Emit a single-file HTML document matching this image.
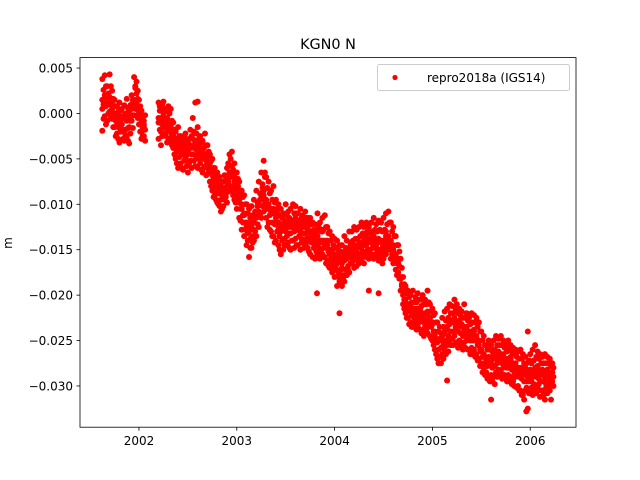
<!DOCTYPE html>
<html><head><meta charset="utf-8"><style>
html,body{margin:0;padding:0;background:#fff;width:640px;height:480px;overflow:hidden}
svg text{font-family:"DejaVu Sans","Liberation Sans",sans-serif;fill:#000}
</style></head><body>
<svg id="chart" width="640" height="480" viewBox="0 0 640 480" xmlns="http://www.w3.org/2000/svg">
<rect width="640" height="480" fill="#fff"/>
<text x="328" y="49" font-size="14.4" text-anchor="middle">KGN0 N</text>
<text transform="translate(12,243) rotate(-90)" font-size="12" text-anchor="middle">m</text>
<g id="marks"></g>
<g id="axes"></g>
<g>
<rect x="377.5" y="64.5" width="192" height="26" rx="2" fill="#fff" fill-opacity="0.8" stroke="#ccc"/>
<circle cx="395" cy="77.5" r="2.6" fill="#f00"/>
<text x="427" y="82" font-size="12">repro2018a (IGS14)</text>
</g>
</svg>
<script>
const xTickValues=[2002,2003,2004,2005,2006];
const xTickLabels=["2002","2003","2004","2005","2006"];
const yTickValues=[5,0,-5,-10,-15,-20,-25,-30];
const yTickLabels=["0.005","0.000","\u22120.005","\u22120.010","\u22120.015","\u22120.020","\u22120.025","\u22120.030"];
const epochs=[2001.625,2001.65,2001.675,2001.7,2001.725,2001.75,2001.775,2001.8,2001.825,2001.85,2001.875,2001.9,2001.925,2001.95,2001.975,2002.0,2002.025,2002.05,
2002.2,2002.225,2002.25,2002.275,2002.3,2002.325,2002.35,2002.375,2002.4,2002.425,2002.45,2002.475,2002.5,2002.525,2002.55,2002.575,2002.6,2002.625,2002.65,2002.675,2002.7,2002.725,2002.75,2002.775,2002.8,2002.825,2002.85,2002.875,2002.9,2002.925,2002.95,2002.975,
2003.0,2003.025,2003.05,2003.075,2003.1,2003.125,2003.15,2003.175,2003.2,2003.225,2003.25,2003.275,2003.3,2003.325,2003.35,2003.375,2003.4,2003.425,2003.45,2003.475,2003.5,2003.525,2003.55,2003.575,2003.6,2003.625,2003.65,2003.675,2003.7,2003.725,2003.75,2003.775,2003.8,2003.825,2003.85,2003.875,2003.9,2003.925,2003.95,2003.975,
2004.0,2004.025,2004.05,2004.075,2004.1,2004.125,2004.15,2004.175,2004.2,2004.225,2004.25,2004.275,2004.3,2004.325,2004.35,2004.375,2004.4,2004.425,2004.45,2004.475,2004.5,2004.525,2004.55,2004.575,2004.6,2004.625,2004.65,2004.675,2004.7,2004.725,2004.75,2004.775,2004.8,2004.825,2004.85,2004.875,2004.9,2004.925,2004.95,2004.975,
2005.0,2005.025,2005.05,2005.075,2005.1,2005.125,2005.15,2005.175,2005.2,2005.225,2005.25,2005.275,2005.3,2005.325,2005.35,2005.375,2005.4,2005.425,2005.45,2005.475,2005.5,2005.525,2005.55,2005.575,2005.6,2005.625,2005.65,2005.675,2005.7,2005.725,2005.75,2005.775,2005.8,2005.825,2005.85,2005.875,2005.9,2005.925,2005.95,2005.975,
2006.0,2006.025,2006.05,2006.075,2006.1,2006.125,2006.15,2006.175,2006.2,2006.225];
const samplesMm=[[1.5,3.8,0.5,-1.9],[1.5,4.2,2.0,-0.3],[1.2,3.0,1.0,-0.8],[1.0,4.3,0.2,1.8],[0.5,2.5,-0.6,1.0],[0,1.5,-1.5,-0.2],[-0.5,0.8,-2.2,-1.0],[-0.5,1.2,-3.2,-0.3],[-0.6,-2.0,0.5,-1.2],[-0.4,-3.0,0.9,-0.5],[-0.5,1.6,-2.5,-0.8],[-0.3,-3.3,0.3,-1.5],[0.5,2.0,-0.8,1.0],[1.5,4.0,1.2,-0.2],[1.0,3.5,0.5,2.2],[0,1.5,-1.2,0.2],[-1,-2.0,0.3,-2.8],[-1.5,-0.8,-2.5,-1.2],
[-0.5,1.2,-1.0,-2.8],[-0.5,0.5,-2.0,-3.5],[-0.8,1.3,-1.5,0.0],[-1,-2.5,0.2,-1.2],[-1.2,0.8,-2.8,-1.0],[-1.5,-3.0,0.5,-1.8],[-2.5,-1.0,-3.8,-2.2],[-3.5,-5.0,-2.0,-3.2],[-3.5,-6.0,-1.5,-4.0],[-3.8,-2.5,-5.5,-3.5],[-4,-6.2,-3.0,-4.5],[-4,-2.2,-5.0,-3.8],[-4,-6.5,-3.2,-4.2],[-3.8,-1.8,-5.2,-3.5],[-3.5,-0.5,-4.5,-2.8],[-3.5,1.2,-3.0,-5.8],[-3.5,-1.5,-4.5,-6.0],[-4.0,-2.5,-5.5,-3.8],[-4.5,-3.0,-6.5,-4.2],[-4.5,-2.2,-5.8,-4.8],[-4.8,-3.5,-6.0,-4.5],[-5.5,-4.5,-7.5,-5.0],[-6.5,-5.0,-8.5,-6.8],[-7.5,-6.0,-9.0,-8.0],[-8,-6.5,-9.8,-7.8],[-8.5,-7.0,-10.2,-8.8],[-8.5,-7.5,-10.5,-9.0],[-8.5,-6.8,-9.5,-8.2],[-8,-6.0,-9.8,-7.5],[-7,-4.5,-8.0,-6.5],[-6.5,-4.2,-8.5,-5.8],[-7.5,-5.5,-9.5,-7.0],
[-8.5,-6.5,-10.5,-9.0],[-9.5,-7.5,-11.5,-9.0],[-10.5,-8.5,-12.8,-10.0],[-11,-9.0,-13.5,-11.2],[-12,-10.0,-14.5,-12.5],[-12.5,-10.5,-15.8,-13.0],[-12.5,-10.2,-14.8,-12.0],[-12,-9.5,-14.0,-12.8],[-11,-8.5,-13.5,-11.5],[-10,-7.5,-12.5,-10.8],[-9.5,-6.5,-11.5,-9.0],[-9,-5.2,-10.8,-8.5],[-9.5,-7.0,-11.5,-9.8],[-10,-7.5,-12.0,-10.5],[-10.5,-8.5,-13.0,-11.0],[-11,-8.0,-13.5,-10.5],[-11.5,-9.5,-14.0,-12.0],[-12,-10.0,-14.5,-12.5],[-12.5,-10.5,-15.5,-13.0],[-12.5,-11.0,-15.0,-12.2],[-12.5,-10.0,-14.5,-13.0],[-12.5,-10.8,-14.2,-12.0],[-12.5,-10.5,-15.0,-13.2],[-12,-10.0,-14.0,-12.5],[-12,-10.2,-13.8,-11.5],[-12.5,-11.0,-14.5,-12.8],[-12.5,-10.5,-15.0,-13.0],[-12.5,-11.2,-14.0,-12.0],[-12.5,-10.8,-14.5,-13.2],[-12.5,-11.5,-14.8,-12.8],[-13,-11.5,-15.5,-13.5],[-13.5,-12.0,-15.8,-14.0],[-14,-12.2,-16.0,-14.5],[-14,-11.0,-15.5,-13.5],[-14,-12.0,-16.0,-14.2],[-14,-11.5,-15.5,-13.0],[-14,-11.2,-15.8,-14.5],[-14.5,-12.5,-16.2,-14.0],[-15,-13.0,-17.0,-15.5],[-15.5,-13.5,-17.5,-15.0],
[-15.5,-13.8,-18.0,-16.0],[-16,-14.0,-19.0,-16.5],[-16,-14.5,-18.5,-15.5],[-16.5,-14.5,-19.0,-17.0],[-16,-13.5,-18.5,-16.2],[-16,-14.0,-17.8,-15.5],[-15.5,-13.0,-17.5,-15.8],[-15,-13.0,-16.5,-15.5],[-15,-12.5,-17.0,-14.5],[-15,-12.8,-16.8,-15.2],[-14.5,-12.5,-16.5,-14.2],[-14.5,-12.0,-16.2,-14.8],[-14.5,-12.5,-16.5,-14.0],[-14,-12.0,-15.8,-14.5],[-14,-12.5,-16.0,-13.8],[-14,-12.0,-15.5,-14.2],[-14,-11.5,-16.0,-13.5],[-14,-12.2,-15.5,-14.5],[-14,-11.8,-16.2,-13.8],[-14,-12.0,-15.8,-14.2],[-14,-11.5,-16.0,-14.5],[-13.5,-11.0,-15.5,-13.0],[-13.5,-10.8,-15.0,-13.8],[-14,-12.0,-16.0,-14.5],[-14.5,-12.5,-16.5,-15.0],[-15.5,-13.5,-17.2,-15.8],[-16,-14.5,-17.5,-16.5],[-18,-16.0,-19.5,-18.2],[-19.5,-18.0,-21.0,-20.0],[-20.5,-19.0,-22.0,-20.8],[-21,-19.5,-22.5,-21.2],[-21.5,-20.0,-23.0,-21.0],[-21.5,-19.5,-23.5,-22.0],[-21.5,-20.2,-23.0,-21.8],[-21.5,-19.8,-23.5,-22.2],[-22,-20.5,-23.8,-21.5],[-22,-20.0,-24.0,-22.5],[-22,-20.5,-23.5,-22.2],[-22,-19.5,-24.2,-21.8],[-22.5,-21.0,-24.5,-22.8],
[-23,-21.5,-25.0,-23.2],[-24,-22.0,-26.0,-24.5],[-25,-23.0,-27.0,-25.2],[-25,-23.5,-26.8,-24.8],[-24.5,-22.5,-26.5,-25.0],[-24,-21.8,-26.0,-24.2],[-23.5,-21.5,-25.5,-23.8],[-23,-21.0,-25.0,-23.2],[-23,-21.2,-24.8,-22.8],[-22.5,-20.5,-24.5,-23.0],[-23,-21.0,-25.2,-23.5],[-23,-21.5,-25.0,-22.8],[-23.5,-21.8,-25.5,-23.2],[-23.5,-21.0,-25.2,-24.0],[-23.5,-22.0,-25.0,-23.8],[-24,-22.5,-26.0,-24.2],[-24,-22.0,-25.8,-24.5],[-24,-22.2,-26.0,-23.8],[-24.5,-22.5,-26.5,-25.0],[-25,-23.0,-27.0,-25.5],[-26,-24.0,-27.5,-26.2],[-26.5,-24.5,-28.0,-26.8],[-27,-25.5,-28.5,-27.2],[-27,-25.0,-29.0,-26.8],[-27,-25.5,-28.8,-27.5],[-27,-25.0,-29.0,-26.5],[-26.5,-24.5,-28.5,-27.0],[-26.5,-24.8,-28.2,-26.2],[-26.5,-24.5,-28.5,-27.0],[-26.5,-25.0,-28.0,-26.8],[-27,-25.5,-29.0,-27.2],[-27,-25.0,-28.8,-27.5],[-27,-25.5,-29.0,-26.8],[-27.5,-25.8,-29.5,-27.8],[-27.5,-26.0,-29.0,-28.0],[-28,-26.2,-30.0,-28.5],[-28,-26.0,-30.5,-28.2],[-28.5,-26.5,-31.0,-28.8],[-28.5,-26.8,-30.5,-28.0],[-28.5,-24.0,-32.5,-29.0],
[-28.5,-26.5,-30.5,-28.2],[-28.5,-26.0,-31.0,-29.0],[-28,-25.5,-30.0,-28.5],[-28,-26.2,-30.2,-27.8],[-28.5,-26.5,-31.2,-28.8],[-28.5,-26.8,-30.5,-28.2],[-28.5,-26.5,-31.5,-29.0],[-28.5,-26.8,-30.8,-28.2],[-28.5,-27.0,-30.5,-29.0],[-28.5,-27.5,-29.5,-28.5]];
const samplesMmB=[[2.6,-0.6,1.0],[3.0,0.8,-1.2],[2.2,0.0,1.8],[3.0,-0.5,1.2],[1.6,0.0,-1.5],[0.8,-0.8,-2.5],[0.2,-1.5,-2.8],[0.3,-2.0,-1.0],[-0.3,-1.8,-2.8],[0.0,-1.8,-2.4],[0.6,-1.6,-3.0],[0.9,-2.2,-0.8],[1.5,-0.2,-1.6],[2.8,0.5,3.0],[2.5,1.6,-0.5],[0.8,-0.5,-2.0],[-0.3,-1.5,-2.5],[-0.2,-1.8,-3.0],
[0.3,-1.8,0.8],[1.0,-1.2,-2.5],[0.5,-2.2,-0.5],[-0.5,-1.8,-3.2],[0.0,-2.0,-1.6],[-0.8,-2.4,-3.5],[-1.8,-3.0,-4.5],[-2.8,-4.2,-5.5],[-2.5,-4.8,-3.0],[-3.0,-4.5,-6.0],[-3.5,-5.2,-2.5],[-3.0,-4.6,-5.8],[-3.6,-5.5,-2.8],[-2.5,-4.5,-6.0],[-2.0,-3.8,-5.2],[-2.2,-4.0,-4.8],[-2.8,-5.0,-3.2],[-3.2,-4.8,-6.2],[-3.8,-5.0,-6.0],[-3.5,-5.2,-6.8],[-4.2,-5.8,-6.5],[-5.2,-6.2,-8.0],[-6.0,-7.2,-9.2],[-7.0,-8.5,-9.5],[-7.2,-8.8,-10.0],[-8.0,-9.5,-10.8],[-7.5,-9.0,-10.2],[-7.0,-8.8,-9.2],[-5.5,-7.5,-8.6],[-5.0,-7.0,-8.0],[-6.2,-8.2,-9.0],[-6.5,-8.0,-9.8],
[-7.2,-9.8,-8.0],[-8.5,-10.5,-11.8],[-9.2,-11.2,-12.0],[-10.0,-12.0,-12.8],[-11.0,-13.2,-14.0],[-11.5,-13.8,-14.8],[-11.2,-13.5,-14.2],[-10.8,-13.0,-11.5],[-9.8,-12.2,-10.2],[-8.8,-11.2,-9.5],[-7.8,-10.2,-8.2],[-7.0,-10.0,-6.5],[-8.2,-10.5,-12.5],[-8.8,-11.2,-12.8],[-9.5,-12.0,-13.5],[-9.8,-12.2,-14.2],[-10.5,-13.0,-11.0],[-11.2,-13.5,-15.0],[-11.5,-14.0,-12.2],[-11.8,-13.8,-14.5],[-11.2,-13.5,-12.0],[-11.5,-13.2,-14.8],[-11.8,-14.0,-12.2],[-11.0,-13.0,-14.8],[-11.0,-12.8,-14.5],[-11.8,-13.5,-12.2],[-11.5,-13.8,-14.2],[-12.0,-13.2,-14.8],[-11.5,-13.8,-14.2],[-12.0,-13.8,-15.2],[-12.2,-14.2,-13.0],[-12.8,-14.8,-13.2],[-13.0,-15.2,-13.8],[-12.5,-14.8,-15.2],[-13.0,-15.0,-12.8],[-12.8,-14.8,-15.8],[-12.5,-14.8,-16.5],[-13.2,-15.2,-16.8],[-14.0,-16.0,-16.5],[-14.5,-16.5,-17.0],
[-14.8,-16.8,-17.2],[-15.0,-17.5,-18.0],[-15.2,-17.2,-18.0],[-15.5,-17.8,-18.2],[-14.8,-17.2,-15.2],[-15.0,-16.8,-17.2],[-14.2,-16.5,-14.5],[-14.0,-15.8,-16.2],[-13.8,-16.0,-15.5],[-13.8,-15.8,-16.2],[-13.5,-15.5,-16.0],[-13.2,-15.2,-15.8],[-13.5,-15.5,-13.2],[-13.0,-15.0,-15.2],[-13.2,-15.0,-15.5],[-13.0,-14.8,-15.8],[-12.8,-14.8,-15.5],[-13.0,-15.0,-15.8],[-12.8,-15.0,-15.5],[-13.0,-14.8,-16.5],[-12.8,-15.2,-15.5],[-12.2,-14.2,-14.8],[-12.0,-14.5,-14.2],[-13.0,-15.0,-15.5],[-13.5,-15.5,-16.2],[-14.5,-16.5,-17.8],[-15.2,-16.8,-18.2],[-17.0,-18.8,-19.0],[-18.8,-20.5,-21.5],[-19.8,-21.5,-22.5],[-20.2,-21.8,-23.2],[-20.8,-22.2,-23.5],[-20.8,-22.5,-23.2],[-20.8,-22.5,-23.8],[-20.5,-22.5,-23.0],[-21.2,-22.8,-24.2],[-21.0,-23.0,-24.5],[-21.0,-22.8,-24.0],[-20.8,-23.0,-23.5],[-21.8,-23.5,-24.8],
[-22.2,-24.0,-25.5],[-23.0,-25.0,-26.5],[-24.0,-26.0,-27.5],[-24.2,-25.8,-27.5],[-23.5,-25.5,-27.0],[-22.8,-25.0,-26.5],[-22.5,-24.5,-26.2],[-22.0,-24.0,-25.5],[-22.0,-24.0,-25.5],[-21.5,-23.5,-25.2],[-22.0,-24.0,-25.8],[-22.2,-24.2,-25.5],[-22.5,-24.5,-26.0],[-22.5,-24.5,-25.8],[-22.8,-24.5,-26.0],[-23.2,-25.0,-26.5],[-23.0,-25.0,-26.5],[-23.0,-25.0,-26.8],[-23.5,-25.5,-27.2],[-24.0,-26.0,-27.8],[-25.0,-26.8,-28.5],[-25.5,-27.5,-28.8],[-26.0,-27.8,-29.2],[-26.0,-27.5,-29.5],[-26.2,-28.0,-29.5],[-26.0,-27.8,-29.8],[-25.5,-27.5,-29.0],[-25.5,-27.2,-28.8],[-25.5,-27.5,-29.2],[-25.8,-27.5,-28.8],[-26.2,-28.0,-29.5],[-26.0,-28.0,-29.5],[-26.2,-28.2,-29.8],[-26.5,-28.5,-30.0],[-26.8,-28.5,-30.2],[-27.0,-29.0,-30.5],[-27.0,-29.2,-31.0],[-27.5,-29.5,-31.5],[-27.5,-29.5,-30.2],[-27.2,-29.5,-30.8],
[-27.5,-29.5,-30.2],[-27.2,-29.8,-30.5],[-26.8,-29.0,-30.8],[-27.0,-29.2,-29.8],[-27.5,-29.5,-30.5],[-27.5,-29.5,-31.0],[-27.5,-29.8,-30.2],[-27.5,-29.5,-30.0],[-27.8,-29.8,-31.5],[-28.0,-29.0,-30.0]];
const outlierEpochs=[2003.82,2004.05,2004.35,2004.45,2005.15,2005.6,2005.96,2002.6];
const outlierMm=[-19.8,-22.0,-19.5,-19.8,-29.4,-31.5,-32.8,1.3];
const HALF_STEP=0.0125;

const X0=80,X1=576,Y0=57.6,Y1=427.2;
const xMin=2001.397,xMax=2006.468,yMin=-34.54,yMax=6.15;
function xs(t){return X0+(t-xMin)/(xMax-xMin)*(X1-X0);}
function ys(v){return Y1-(v-yMin)/(yMax-yMin)*(Y1-Y0);}
const NS="http://www.w3.org/2000/svg";
const marks=document.getElementById('marks');
function dot(t,v){
  const c=document.createElementNS(NS,'circle');
  c.setAttribute('cx',xs(t).toFixed(2));
  c.setAttribute('cy',ys(v).toFixed(2));
  c.setAttribute('r','3');
  c.setAttribute('fill','#f00');
  
  
  marks.appendChild(c);
}
epochs.forEach((t,i)=>{
  samplesMm[i].forEach(v=>dot(t,v));
  if(samplesMmB[i]) samplesMmB[i].forEach(v=>dot(t+HALF_STEP,v));
});
outlierEpochs.forEach((t,i)=>dot(t,outlierMm[i]));

const axes=document.getElementById('axes');
function el(tag,attrs){const e=document.createElementNS(NS,tag);for(const k in attrs)e.setAttribute(k,attrs[k]);axes.appendChild(e);return e;}
const frame=el('rect',{x:X0,y:Y0,width:X1-X0,height:Y1-Y0,fill:'none',stroke:'#000','stroke-width':'0.8'});


xTickValues.forEach((t,i)=>{
  const x=xs(t);
  const l=el('line',{x1:x,x2:x,y1:Y1,y2:Y1+3.5,stroke:'#000','stroke-width':'0.8'});
  
  
  const tx=el('text',{x:x,y:Y1+18,'font-size':'12','text-anchor':'middle'});
  tx.textContent=xTickLabels[i];
  
  
});
yTickValues.forEach((v,i)=>{
  const y=ys(v);
  const l=el('line',{x1:X0-3.5,x2:X0,y1:y,y2:y,stroke:'#000','stroke-width':'0.8'});
  
  
  const tx=el('text',{x:X0-7,y:y+4.5,'font-size':'12','text-anchor':'end'});
  tx.textContent=yTickLabels[i];
  
  
});
</script>
</body></html>
